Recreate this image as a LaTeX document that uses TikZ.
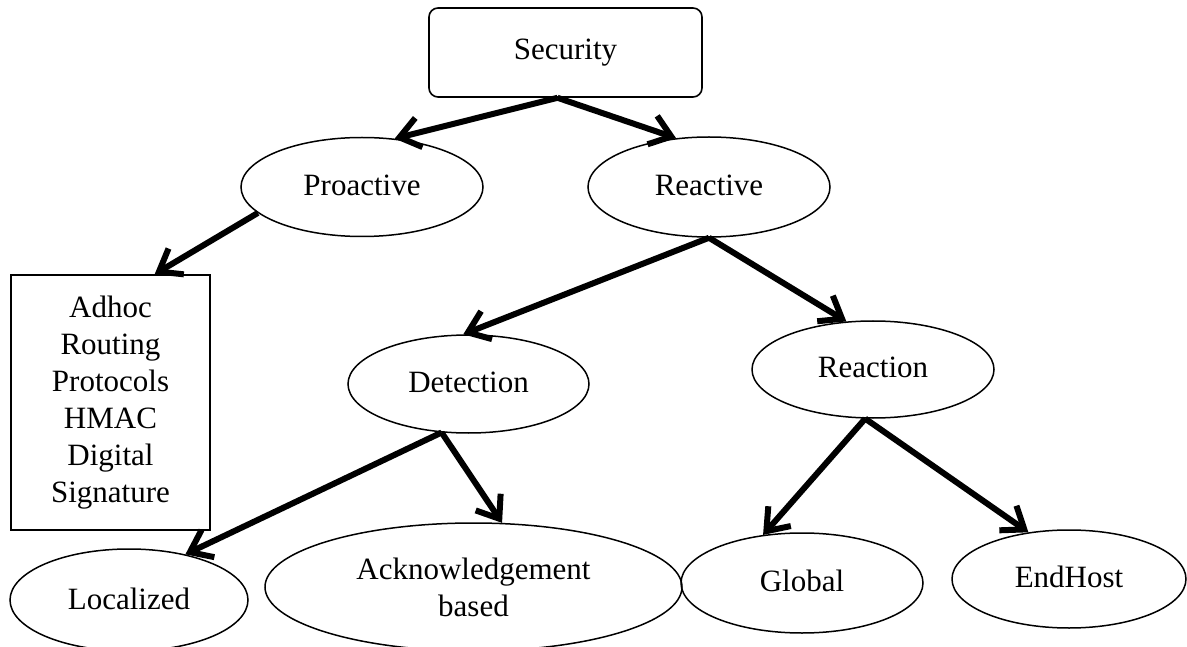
\documentclass[tikz,border=0pt]{standalone}
\usepackage{fontspec}
\setmainfont{Liberation Serif}
\usetikzlibrary{arrows.meta}
\usetikzlibrary{positioning, shapes.geometric}

\begin{document}
\begin{tikzpicture}[
            x=1pt, y=-1pt,
            every node/.style={font=\fontsize{31}{37}\selectfont, inner sep=0pt},
            root/.style={rectangle, draw=black, line width=1.6pt, rounded corners=9pt, minimum width=273pt, minimum height=89pt},
            oval/.style={ellipse, draw=black, line width=1.5pt, text depth=0.45em, minimum width=242pt, minimum height=99pt},
            list_box/.style={rectangle, draw=black, line width=1.6pt, align=center, minimum width=199pt, minimum height=255pt},
            arrow/.style={-{Straight Barb[length=20pt, width=30pt]}, line width=6pt, black}
        ]
        \useasboundingbox (0,0) rectangle (1187,647);

        % Root
        \node[root] (security) at (565.5,52.5) {Security};

        % First level
        \node[oval] (proactive) at (362,187) {Proactive};
        \node[oval, minimum height=100pt] (reactive) at (709,187) {Reactive};

        % Proactive branch
        \node[list_box] (adhoc_box) at (110.5,402.5) {Adhoc\\Routing\\Protocols\\HMAC\\Digital\\Signature};

        % Reactive branch
        \node[oval, minimum width=241pt, minimum height=98pt] (detection) at (468.5,384) {Detection};
        \node[oval, minimum height=97pt] (reaction) at (873,369.5) {Reaction};

        % Leaves
        \node[oval, minimum width=238pt, minimum height=102pt, text depth=0.2em] (localized) at (129,600) {Localized};
        \node[oval, minimum width=417pt, minimum height=128pt, text depth={}, align=center] (ack_based) at (473.5,587) {Acknowledgement\\based};
        \node[oval, minimum height=100pt] (global) at (802,583) {Global};
        \node[oval, minimum width=234pt, minimum height=98pt] (endhost) at (1069,579) {EndHost};

        % Arrows from root
        \draw[arrow] (security.260) -- (proactive.56);
        \draw[arrow] (security.260) -- (reactive.124);

        % Arrows from first level
        \draw[arrow] (proactive.194) -- (adhoc_box.71);
        \draw[arrow] (reactive.south) -- (detection.96);
        \draw[arrow] (reactive.south) -- (reaction.119);

        % Arrows to leaves
        \draw[arrow] (detection.241) -- (localized.39);
        \draw[arrow] (detection.241) -- (ack_based.66);
        \draw[arrow] (reaction.261) -- (global.129);
        \draw[arrow] (reaction.261) -- (endhost.131);

    \end{tikzpicture}
\end{document}
